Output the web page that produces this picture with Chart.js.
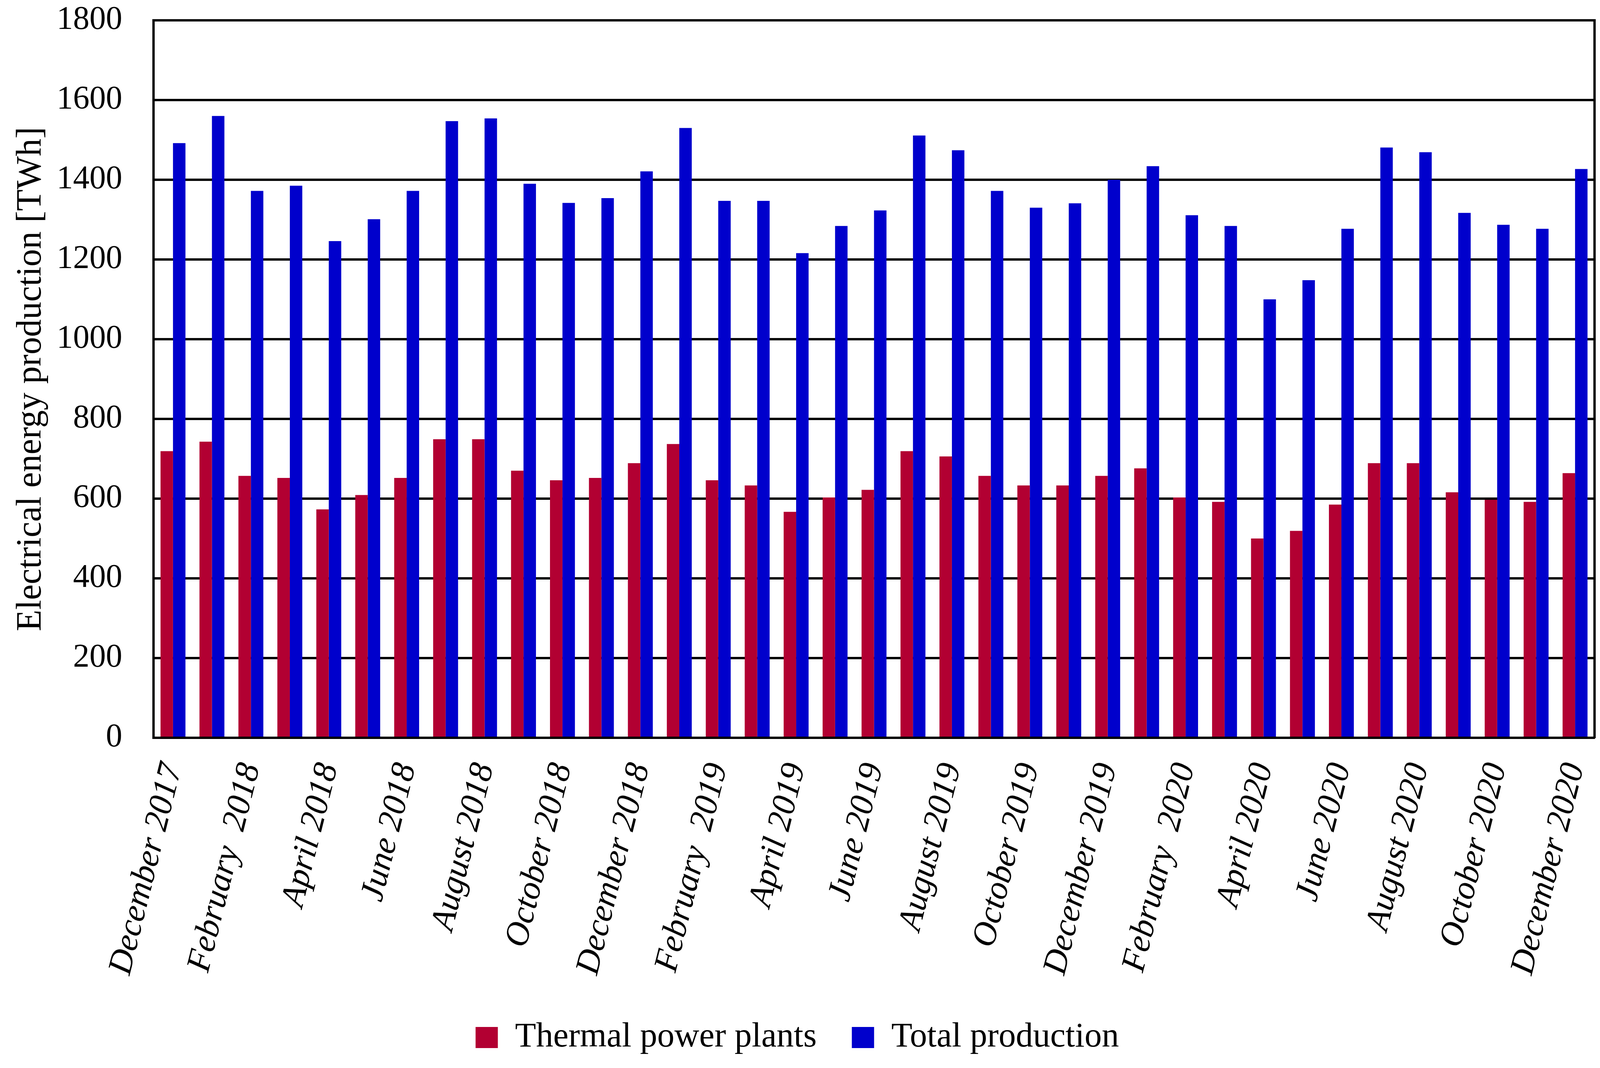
<!DOCTYPE html>
<html>
<head>
<meta charset="utf-8">
<title>Electrical energy production</title>
<script src="https://cdn.jsdelivr.net/npm/chart.js@4.4.0/dist/chart.umd.min.js"></script>
<style>
  html, body { margin: 0; padding: 0; background: #ffffff; }
  canvas { display: block; }
</style>
</head>
<body>
<canvas id="barChart" width="4107" height="2733"></canvas>
<script>
// Months, December 2017 - December 2020
const months = [
    'December 2017', 'January 2018', 'February  2018', 'March 2018', 'April 2018', 'May 2018',
    'June 2018', 'July 2018', 'August 2018', 'September 2018', 'October 2018', 'November 2018',
    'December 2018', 'January 2019', 'February  2019', 'March 2019', 'April 2019', 'May 2019',
    'June 2019', 'July 2019', 'August 2019', 'September 2019', 'October 2019', 'November 2019',
    'December 2019', 'January 2020', 'February  2020', 'March 2020', 'April 2020', 'May 2020',
    'June 2020', 'July 2020', 'August 2020', 'September 2020', 'October 2020', 'November 2020',
    'December 2020'
];

// TWh values
const thermalPowerPlants = [
    719, 743, 657, 652, 573, 609, 652, 749, 749, 670, 646, 652,
    689, 737, 646, 633, 567, 603, 622, 719, 706, 657, 633, 633,
    657, 676, 603, 592, 500, 519, 585, 689, 689, 616, 597, 592,
    664
];
const totalProduction = [
    1492, 1560, 1372, 1385, 1246, 1301, 1372, 1547, 1554, 1390, 1342, 1354,
    1421, 1530, 1347, 1347, 1216, 1284, 1323, 1511, 1474, 1372, 1330, 1341,
    1400, 1434, 1311, 1284, 1100, 1148, 1277, 1481, 1469, 1317, 1287, 1277,
    1427
];

// Y axis range
const yMin = 0;
const yMax = 1800;
const yStep = 200;

document.addEventListener('DOMContentLoaded', function() {
    const canvas = document.getElementById('barChart');
    const ctx = canvas.getContext('2d');

    Chart.defaults.font.family = '"Liberation Serif", "Times New Roman", serif';
    Chart.defaults.color = '#000000';

    const lineColor = '#000000';
    const lineWidth = 6;

    new Chart(ctx, {
        type: 'bar',
        data: {
            labels: months,
            datasets: [{
                label: 'Thermal power plants',
                data: thermalPowerPlants,
                backgroundColor: 'rgb(178, 0, 50)',
                borderWidth: 0
            }, {
                label: 'Total production',
                data: totalProduction,
                backgroundColor: 'rgb(0, 0, 204)',
                borderWidth: 0
            }]
        },
        options: {
            responsive: false,
            devicePixelRatio: 1,
            animation: false,
            categoryPercentage: 0.64,
            barPercentage: 1.0,
            layout: {
                padding: { left: 0, right: 25, top: 52, bottom: 24 }
            },
            plugins: {
                tooltip: { enabled: false },
                legend: {
                    position: 'bottom',
                    labels: {
                        boxWidth: 57,
                        boxHeight: 54,
                        padding: 90,
                        color: '#000000',
                        font: { size: 88 }
                    }
                }
            },
            scales: {
                x: {
                    grid: { display: false, drawTicks: false },
                    border: { display: true, color: lineColor, width: lineWidth },
                    ticks: {
                        autoSkip: false,
                        minRotation: 76,
                        maxRotation: 76,
                        padding: 55,
                        font: { size: 87, style: 'italic' },
                        callback: function(value, index) {
                            return index % 2 === 0 ? months[index] : '';
                        }
                    },
                    afterFit: function(scale) {
                        scale.height = 2733 - 24 - scale.chart.legend.height - 1888;
                        scale.paddingLeft = 0;
                        scale.paddingRight = 0;
                    }
                },
                y: {
                    min: yMin,
                    max: yMax,
                    grid: { color: lineColor, lineWidth: lineWidth, drawTicks: false },
                    border: { display: true, color: lineColor, width: lineWidth },
                    ticks: {
                        stepSize: yStep,
                        padding: 80,
                        font: { size: 84 },
                        callback: function(value) {
                            return String(value);
                        }
                    },
                    title: {
                        display: true,
                        text: 'Electrical energy production [TWh]',
                        padding: { top: 26, bottom: 0 },
                        font: { size: 90 }
                    },
                    afterFit: function(scale) {
                        scale.width = 393;
                        scale.paddingTop = 0;
                        scale.paddingBottom = 0;
                    }
                },
                yRight: {
                    position: 'right',
                    min: yMin,
                    max: yMax,
                    grid: { display: false, drawTicks: false },
                    border: { display: true, color: lineColor, width: lineWidth },
                    ticks: { display: false },
                    afterFit: function(scale) {
                        scale.width = 0;
                        scale.paddingTop = 0;
                        scale.paddingBottom = 0;
                    }
                }
            }
        }
    });
});
</script>
</body>
</html>
